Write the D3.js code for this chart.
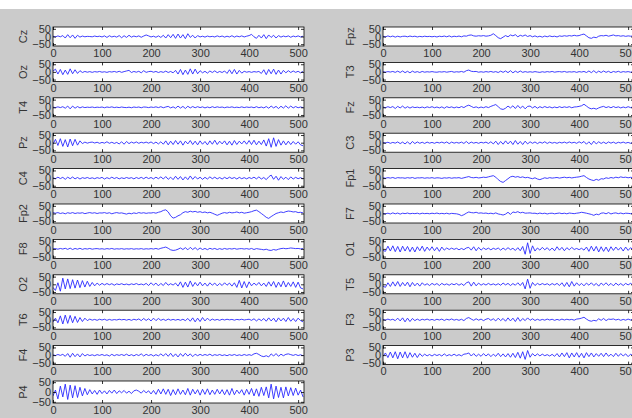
<!DOCTYPE html>
<html>
<head>
<meta charset="utf-8">
<script src="https://cdn.jsdelivr.net/npm/d3@7"></script>
<style>
  body { margin: 0; background: #cbcbcb; }
  svg { display: block; font-family: "Liberation Sans", Arial, sans-serif; }
</style>
</head>
<body>
<script>
// channel names, column by column
var leftNames = ["Cz", "Oz", "T4", "Pz", "C4", "Fp2", "F8", "O2", "T6", "F4", "P4"];
var rightNames = ["Fpz", "T3", "Fz", "C3", "Fp1", "F7", "O1", "T5", "F3", "P3"];
var xTicks = [0, 100, 200, 300, 400, 500];
var yTicks = [-50, 0, 50];
var step = 5; // one value every 5 samples, 0..510

// values (uV)
var Cz = [2,-3,4,-2,6,-10,12,-8,10,-12, 8,-4,3,-2,1,0,-2,3,-1,2, -3,4,-6,5,-3,2,-4,6,-8,5, -6,8,-4,3,-2,4,-5,3,10,4,
  -3,2,-5,4,-6,8,-10,12,-8,14, -12,16,-10,12,-14,18,-6,8,-10,6, -3,2,-4,3,-2,1,-3,4,-2,3, -4,2,-3,5,-4,3,-2,4,-3,2,
  6,14,-2,-12,8,-10,12,-14,10,-6, 8,-10,6,-4,3,-2,4,-5,3,-2, 4,-3,2];
var Oz = [5,18,-14,16,-18,12,-16,20,-12,14, -10,8,-4,3,-2,2,-3,2,-1,3, -2,1,-3,2,-1,3,-2,4,-3,2, 6,10,-4,3,-2,4,-6,8,-3,2,
  4,-2,3,-4,2,-3,5,-4,3,-6, 10,-14,16,-18,12,-16,20,-14,18,-12, 8,-6,4,-8,6,-4,7,-5,3,-4, 6,-10,14,-12,16,-14,10,-8,4,-2,
  2,-3,2,-1,3,-10,14,-18,16,-12, 18,-16,12,-14,10,-6,8,-4,6,-3, 4,-6,3];
var T4 = [1,-2,3,-2,4,-6,8,-10,8,-6, 5,-4,3,-2,1,-1,2,-2,1,-1, 2,-3,2,-1,3,-2,1,-2,2,-1, -2,1,-3,2,-1,2,-3,2,1,-2,
  2,-1,3,-2,4,-3,2,6,-4,3, -6,8,-5,6,-8,7,-4,5,-3,4, -2,3,-4,2,-3,4,-2,3,-1,2, -3,2,-1,3,-2,1,-2,3,-2,2,
  -1,2,-3,4,-3,2,-4,5,-6,8, -4,6,-8,7,-5,10,-6,8,-4,5, -3,2,-2];
var Pz = [-10,22,-18,26,-24,20,-28,24,-20,22, -16,12,-6,4,-3,2,4,-2,3,-4, 2,-3,6,-4,3,-5,2,-8,6,-10, 8,-6,4,-3,5,-4,3,-2,4,-3,
  5,-6,4,-8,6,-10,12,-14,10,-12, 14,-10,12,-16,10,-8,14,-12,10,-14, 12,-10,8,-14,12,-10,16,-12,10,-8, 12,-14,10,-16,14,-12,10,-8,12,-10,
  14,-12,16,-14,10,-12,18,-22,26,-30, 32,-24,20,-16,12,-14,10,-12,8,-10, 6,-14,-20];
var C4 = [2,-4,6,-3,5,-8,6,-4,7,-5, 4,-6,3,-2,4,-3,2,-4,3,-2, 5,-6,3,-4,6,-3,4,-5,2,-3, 4,-2,3,-5,4,-3,5,-4,6,-3,
  4,-5,6,-4,8,-6,10,-8,6,-10, 12,-8,10,-12,8,-10,14,-8,10,-6, 6,-8,5,-6,8,-4,6,-5,4,-6, 5,-4,6,-3,4,-6,5,-4,3,-5,
  4,-3,6,-5,8,-6,4,-10,8,20, -8,12,-14,10,-8,6,-10,8,-6,5, -4,3,-5];
var Fp2 = [5,2,6,0,4,-2,5,1,6,0, 4,2,5,-1,3,6,2,5,0,4, 3,6,1,5,-2,3,6,2,4,0, -4,2,-2,4,0,6,2,5,1,4,
  3,6,2,8,12,20,24,10,-15,-30, -25,-15,-8,5,12,8,15,10,14,8, 12,6,10,4,8,2,-5,-12,-5,2, 6,2,8,4,6,10,4,8,2,5,
  8,12,18,22,12,0,-12,-25,-32,-20, -10,0,5,10,6,12,16,14,10,12, 6,8,4];
var F8 = [0,2,-2,3,-1,4,-3,5,-4,3, -2,4,-3,2,-1,3,-2,1,2,-1, 1,-2,2,-1,3,-2,1,-1,2,-2, 1,-1,2,-2,1,-1,2,-2,1,-1,
  2,-1,3,-2,4,8,12,4,-6,-10, -8,-2,6,-4,8,-6,10,-4,8,-6, 6,-4,3,-5,4,-2,3,-4,2,-3, 3,-2,2,-1,3,-2,1,2,-1,2,
  -2,3,-4,2,-1,-3,-6,-2,-8,-10, -4,-8,-2,2,4,1,3,6,4,2, 3,0,2];
var O2 = [-20,-40,10,-45,40,-30,35,-28,30,-25, 28,-22,24,-18,20,-14,12,-10,8,-6, 6,-4,5,-3,4,-6,3,-2,4,-3, 2,-4,3,-2,5,-3,2,-4,6,-8,
  10,-6,8,-10,6,-8,12,-6,4,-5, 8,-12,16,-20,14,-18,22,-14,12,-10, 14,-10,8,-12,10,-6,8,-10,6,-8, 10,-6,8,-12,10,-20,26,-24,18,-22,
  16,-10,8,-6,12,-10,8,-14,16,-12, 18,-20,14,-16,22,-18,12,-14,16,-20, 14,-24,-30];
var T6 = [-15,10,-20,25,-28,30,-24,28,-20,22, -18,14,-12,10,-6,4,-3,2,-4,3, -2,3,-4,2,-3,1,-2,3,-1,2, -3,2,-4,3,-2,5,-6,8,-5,6,
  -8,10,-6,8,-4,3,-5,4,-3,2, -3,2,-4,3,-6,8,-10,12,-14,10, -12,14,-8,10,-6,4,-3,2,-4,3, -2,3,-1,2,-3,2,-1,3,-2,1,
  3,-4,6,-8,5,-6,8,-10,12,-8, 10,-14,12,-8,10,-12,14,-10,8,-12, 10,-6,-14];
var F4 = [2,-3,4,-2,5,-8,10,-14,12,-10, 8,-12,10,-6,4,-3,2,-4,3,-2, 4,-3,2,-6,5,-4,3,-2,4,-3, 6,-4,3,-5,4,-3,8,-6,5,-3,
  4,-6,3,-5,8,-6,10,-8,12,-10, 8,-12,10,-8,12,-6,8,-10,6,-4, 5,-3,4,-2,6,-4,3,-2,4,-3, 2,-4,3,-2,4,-3,2,-3,4,-2,
  3,-2,8,12,4,-6,-10,-4,-12,8, -6,10,-8,6,-4,5,8,3,-2,4, -3,2,-4];
var P4 = [-20,10,-35,30,-25,40,-38,35,-30,32, -28,24,-20,18,-14,12,-10,8,-12,10, -8,6,-10,8,-6,10,-8,6,-4,8, -6,4,-8,6,10,4,-6,8,-4,6,
  -10,8,-12,14,-10,16,-12,14,-18,12, -14,16,-12,10,-14,18,-16,14,-10,12, -16,14,-12,16,-14,10,-12,14,-10,12, -14,12,-16,18,-14,10,-8,12,-16,14,
  -12,18,-20,16,-22,24,-18,26,-30,40, -35,30,-28,24,-30,26,-20,22,-18,20, -16,10,-25];

var Fpz = [2,-3,4,-2,3,-4,2,-3,1,2, -2,3,-1,2,-3,1,-2,2,-1,1, -2,1,-3,2,-1,3,-2,4,-3,2, -1,3,-2,4,2,8,10,4,2,5,
  3,6,2,4,8,18,6,-8,-14,-4, 6,-2,10,4,12,-2,8,2,10,0, 6,-2,4,-3,2,-4,3,-2,4,-1, 2,-3,4,1,5,2,6,3,8,4,
  6,12,16,4,-8,-12,-4,-8,2,6, 4,8,2,6,10,4,6,2,5,1, 4,2,3];
var T3 = [1,-2,2,-1,3,-3,5,-4,6,-5, 4,-6,5,-3,2,-4,3,-2,1,-1, 2,-1,-2,1,-1,2,-2,1,3,-2, 1,-1,3,-2,8,12,4,2,3,-2,
  1,-2,2,-1,3,-2,2,-4,5,-3, 6,-5,8,-6,5,-4,6,-3,2,-2, 1,-2,2,-1,-3,1,-2,2,-1,3, -2,1,2,-1,3,-2,1,-1,2,-3,
  2,-1,3,-4,6,-5,8,-6,5,-4, 6,-3,4,-5,3,-2,4,-3,2,-1, 2,-2,1];
var Fz = [2,-3,4,-2,5,-8,6,-4,8,-6, 4,-5,3,-2,1,-3,2,-4,3,-2, 4,-3,2,-4,3,-6,4,-2,3,-4, 2,-3,5,-2,8,14,6,-2,3,-4,
  2,-3,4,-2,6,12,18,4,-10,-14, -6,8,-4,10,-8,12,-6,8,-10,6, 8,-4,6,-6,4,-3,5,-2,3,-4, 2,-3,4,-2,3,-1,4,-3,2,3,
  6,10,20,8,-4,-10,-6,-12,-4,2, 6,-2,4,-3,5,-2,3,-4,2,-3, 4,-2,3];
var C3 = [1,-2,3,-4,2,-3,5,-6,4,-8, 6,-10,8,-6,5,-4,3,-5,4,-3, 2,-4,3,-2,4,-3,5,-6,4,-3, 2,-3,4,-5,8,-6,4,-3,2,-4,
  3,-2,4,-5,6,-8,10,-12,8,-10, 12,-8,10,-12,14,-10,8,-12,10,-8, 6,-4,5,-6,4,-3,6,-5,4,-3, 2,-4,3,-2,4,-3,5,-2,3,-4,
  6,-3,8,-10,6,-12,10,-8,6,-5, 4,-6,5,-3,4,-5,3,-2,4,-3, 2,-4,3];
var Fp1 = [2,-1,3,0,4,-2,3,1,2,-1, 3,0,4,-2,2,1,3,-1,2,0, 3,-1,2,1,-2,2,0,3,-1,2, 1,3,-2,2,6,10,4,2,5,1,
  3,6,4,8,12,16,6,-10,-22,-28, -16,-4,8,12,6,10,4,8,2,5, 0,-4,2,-6,-10,-4,2,-2,3,0, 2,4,0,3,6,2,5,1,4,6,
  8,12,16,4,-6,-12,-16,-8,-14,-4, -6,2,-2,4,0,6,2,8,4,6, 2,5,3];
var F7 = [0,-2,2,-3,4,-2,3,-4,2,-1, 3,-2,1,-1,2,-3,2,-1,1,-2, 2,-1,3,-2,1,-2,2,-3,1,-1, -2,-6,-14,-8,2,10,6,4,8,2,
  4,1,3,-1,2,-2,4,-3,-6,-10, -4,8,-6,10,6,12,4,8,2,3, 4,1,2,-2,3,-1,2,-3,1,2, -2,1,3,-1,2,-2,3,1,-1,2,
  4,8,5,2,-2,-6,-12,-4,-8,2, 4,-2,6,-3,2,4,-1,3,-2,2, 1,-1,2];
var O1 = [-10,-16,18,-14,20,-18,16,-20,18,-14, 16,-18,12,-20,14,-12,18,-16,12,-10, 14,-12,10,-16,12,-8,6,-4,5,-3, 4,-6,3,-5,6,10,-8,14,-12,10,
  -8,6,-4,5,-6,4,-3,6,-8,5, -6,8,-5,4,-10,8,-12,16,-35,40, -30,20,-14,6,-8,10,-6,8,-10,6, -12,14,-8,10,-12,8,-6,10,-4,3,
  -5,4,-8,12,-16,18,-14,16,-20,14, -16,12,-18,14,-10,12,-8,10,-14,12, -10,8,-6];
var T5 = [-12,-20,10,-14,16,-12,18,-14,12,-10, 14,-16,12,-10,8,-12,10,-6,4,-8, 6,-4,5,-8,6,-4,3,-6,4,-3, 5,-6,4,-8,10,16,-12,14,-10,8,
  -6,4,-5,6,-4,3,-5,4,-6,8, -4,6,-8,5,-6,10,-8,12,-30,34, -26,12,-8,6,-4,5,-3,4,-6,5, -4,6,-8,10,-14,12,-16,18,-12,10,
  -8,6,-10,8,-6,10,-8,6,-12,8, -6,10,-8,6,-10,8,-6,5,-8,6, -4,6,-5];
var F3 = [2,-3,4,-2,3,-6,10,-8,12,-14, 10,-12,8,-6,4,-5,3,-2,4,-3, 2,-4,3,-2,4,-5,3,-2,5,-3, 2,-4,3,-6,8,14,4,-4,6,-3,
  4,-6,3,8,-4,6,-8,10,-6,8, -10,12,-8,10,-12,14,-10,8,-6,12, -4,6,-5,3,-4,2,-3,4,-2,3, -4,2,-3,4,-2,3,-1,2,-3,4,
  6,10,16,4,-6,-10,-4,-8,6,-4, 8,-6,4,2,5,-2,3,-4,2,-3, 4,-2,3];
var P3 = [-8,14,-16,20,-18,22,-24,20,-18,22, -20,16,-14,12,-16,10,-8,6,-5,4, -6,5,-3,4,-6,8,-5,3,-4,6, -4,3,-5,6,8,14,-6,10,-8,6,
  -8,10,-6,8,-10,6,-8,12,-10,8, -12,10,-14,12,-16,18,-20,22,-28,30, -14,10,-6,8,-5,6,-4,3,-6,5, -8,10,-12,14,-10,16,-18,14,-12,16,
  -14,12,-18,16,-10,14,-12,10,-8,12, -10,14,-8,6,-10,12,-8,10,-6,8, -10,6,-4];

var leftData = [Cz, Oz, T4, Pz, C4, Fp2, F8, O2, T6, F4, P4];
var rightData = [Fpz, T3, Fz, C3, Fp1, F7, O1, T5, F3, P3];

var width = 632, height = 418;
var svg = d3.select("body").append("svg").attr("width", width).attr("height", height);

// white strip above the figure
svg.append("rect").attr("x", 0).attr("y", 0).attr("width", width).attr("height", 9).attr("fill", "#ffffff");

var boxW = 251;
var x = d3.scaleLinear().domain([0, 512]).range([0, boxW]);

function drawPanel(left, top, name, vals, labelOff, tall) {
  var h = tall ? 22 : 19;
  var lim = tall ? 56 : 62;
  var y = d3.scaleLinear().domain([-lim, lim]).range([h, 0]);
  var g = svg.append("g").attr("transform", "translate(" + left + "," + top + ")");

  g.append("rect").attr("width", boxW).attr("height", h).attr("fill", "#ffffff");

  g.append("defs").append("clipPath").attr("id", "clip-" + name)
    .append("rect").attr("width", boxW).attr("height", h);

  var line = d3.line()
    .x(function(d, i){ return x(i * step); })
    .y(function(d){ return y(d); });

  g.append("path").attr("d", line(vals))
    .attr("clip-path", "url(#clip-" + name + ")")
    .attr("fill", "none").attr("stroke", "#2a2aff").attr("stroke-width", 1)
    .attr("stroke-opacity", 0.9);

  // axes, ticks pointing inward like MATLAB
  var xb = g.append("g").attr("transform", "translate(0," + h + ")")
    .call(d3.axisBottom(x).tickValues(xTicks).tickSize(-3).tickPadding(3));
  var xt = g.append("g").call(d3.axisTop(x).tickValues(xTicks).tickSize(-3).tickFormat(""));
  var yl = g.append("g").call(d3.axisLeft(y).tickValues(yTicks).tickSize(-3).tickPadding(2));
  var yr = g.append("g").attr("transform", "translate(" + boxW + ",0)")
    .call(d3.axisRight(y).tickValues(yTicks).tickSize(-3).tickFormat(""));

  [xb, xt, yl, yr].forEach(function(a){
    a.select(".domain").remove();
    a.selectAll("line").attr("stroke", "#000").attr("stroke-width", 0.8);
    a.selectAll("text").attr("font-size", 11).attr("fill", "#333")
      .attr("font-family", "Liberation Sans, Arial, sans-serif");
  });

  g.append("rect").attr("width", boxW).attr("height", h)
    .attr("fill", "none").attr("stroke", "#000").attr("stroke-width", 0.8);

  g.append("text")
    .attr("transform", "translate(" + labelOff + "," + (h / 2) + ") rotate(-90)")
    .attr("text-anchor", "middle").attr("dy", "0.35em")
    .attr("font-size", 11).attr("fill", "#333")
    .text(name);
}

leftNames.forEach(function(n, i){
  drawPanel(53, 27 + 35.4 * i, n, leftData[i], -30, n === "P4");
});
rightNames.forEach(function(n, i){
  drawPanel(383, 27 + 35.4 * i, n, rightData[i], -33, false);
});
</script>
</body>
</html>
